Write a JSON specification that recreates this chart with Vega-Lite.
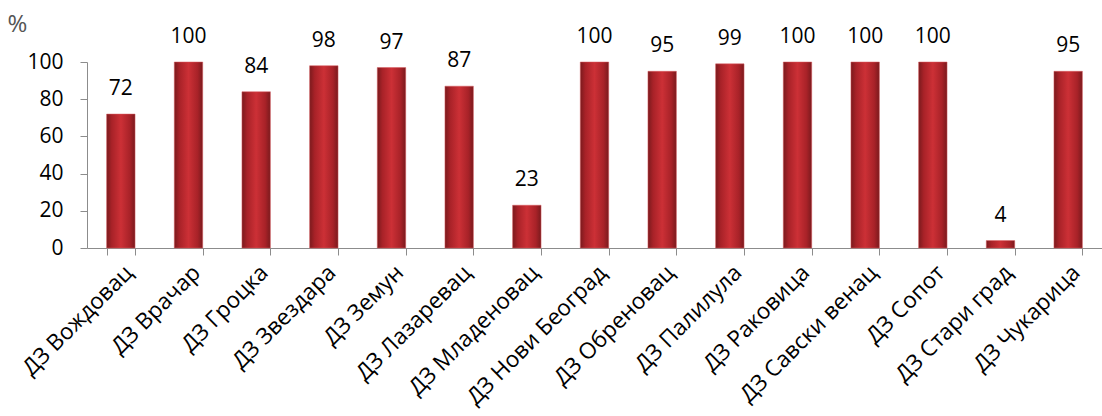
{
  "$schema": "https://vega.github.io/schema/vega-lite/v6.json",
  "width": 1015,
  "height": 186,
  "autosize": {"type": "none"},
  "padding": {"left": 87, "top": 62, "right": 0, "bottom": 168},
  "background": "white",
  "config": {
    "view": {"stroke": null},
    "font": "Open Sans",
    "axis": {"domainColor": "#8c8c8c", "tickColor": "#8c8c8c", "grid": false, "labelColor": "#000", "labelFont": "Open Sans", "titleFont": "Open Sans"}
  },
  "data": {
    "values": [
      {"district": "ДЗ Вождовац", "value": 72},
      {"district": "ДЗ Врачар", "value": 100},
      {"district": "ДЗ Гроцка", "value": 84},
      {"district": "ДЗ Звездара", "value": 98},
      {"district": "ДЗ Земун", "value": 97},
      {"district": "ДЗ Лазаревац", "value": 87},
      {"district": "ДЗ Младеновац", "value": 23},
      {"district": "ДЗ Нови Београд", "value": 100},
      {"district": "ДЗ Обреновац", "value": 95},
      {"district": "ДЗ Палилула", "value": 99},
      {"district": "ДЗ Раковица", "value": 100},
      {"district": "ДЗ Савски венац", "value": 100},
      {"district": "ДЗ Сопот", "value": 100},
      {"district": "ДЗ Стари град", "value": 4},
      {"district": "ДЗ Чукарица", "value": 95}
    ]
  },
  "encoding": {
    "x": {
      "field": "district", "type": "nominal", "sort": null,
      "scale": {"paddingInner": 0.58, "paddingOuter": 0.29},
      "axis": {"title": null, "labelAngle": -45, "labelFontSize": 22.5, "labelLimit": 400, "labelOverlap": false, "tickSize": 7, "labelPadding": 6, "tickBand": "extent", "bandPosition": 0}
    },
    "y": {
      "field": "value", "type": "quantitative",
      "scale": {"domain": [0, 100]},
      "axis": {"values": [0, 20, 40, 60, 80, 100], "labelFontSize": 21, "tickSize": 7, "labelPadding": 17,
        "title": "%", "titleAngle": 0, "titleX": -80, "titleY": -38, "titleAlign": "left", "titleBaseline": "middle",
        "titleFontSize": 24, "titleFontWeight": "normal", "titleColor": "#555"}
    }
  },
  "layer": [
    {
      "mark": {
        "type": "bar",
        "color": {
          "gradient": "linear", "x1": 0, "x2": 1, "y1": 0, "y2": 0,
          "stops": [
            {"offset": 0, "color": "#7a1a1d"},
            {"offset": 0.18, "color": "#a82228"},
            {"offset": 0.5, "color": "#cc3036"},
            {"offset": 0.82, "color": "#a82228"},
            {"offset": 1, "color": "#7a1a1d"}
          ]
        },
        "stroke": "#d85a5e",
        "strokeWidth": 0.5
      }
    },
    {
      "mark": {"type": "text", "baseline": "alphabetic", "dy": -19, "fontSize": 21, "color": "#000"},
      "encoding": {"text": {"field": "value", "type": "quantitative"}}
    }
  ]
}
